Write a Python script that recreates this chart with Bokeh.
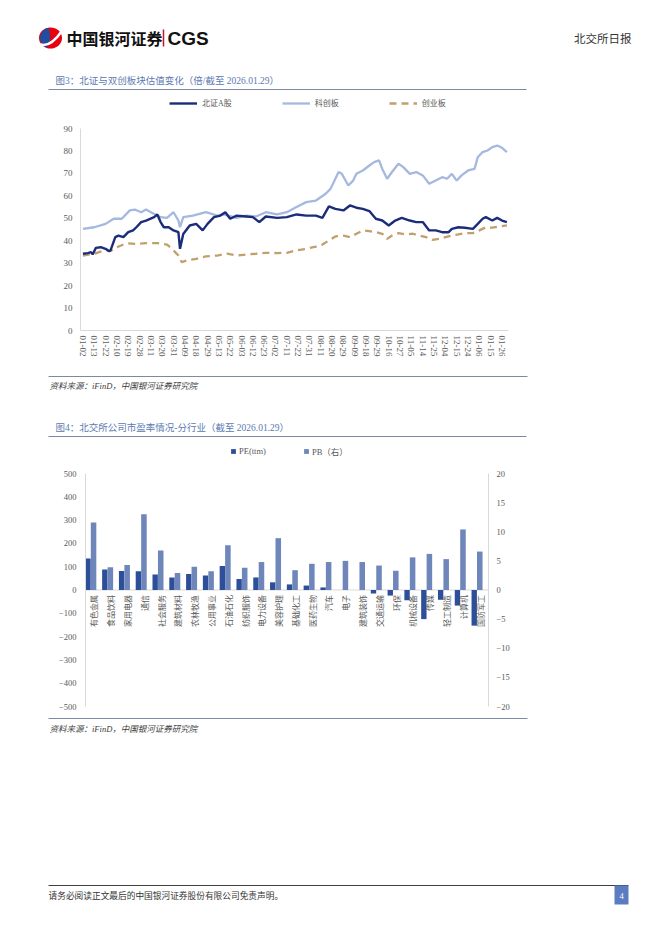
import math
from bokeh.plotting import figure
from bokeh.models import Range1d, FixedTicker, Legend, LegendItem, LinearAxis
from bokeh.core.properties import value
from bokeh.embed import file_html
from bokeh.resources import INLINE

CJK = "Noto Sans CJK SC"
MIX = "Liberation Serif, Noto Sans CJK SC"
SERIF = "Liberation Serif"

# ---------------- Chart 1 data (trading-day index, value) ----------------
date_labels = ["01-02", "01-13", "01-22", "02-10", "02-19", "02-28", "03-11", "03-20",
               "03-31", "04-09", "04-18", "04-29", "05-13", "05-22", "06-03", "06-12",
               "06-23", "07-02", "07-11", "07-22", "07-31", "08-11", "08-20", "08-29",
               "09-09", "09-18", "09-29", "10-16", "10-27", "11-05", "11-14", "11-25",
               "12-04", "12-15", "12-24", "01-06", "01-15", "01-26"]
date_ticks = [0, 7, 14, 21, 28, 35, 42, 49, 56, 63, 70, 77, 84, 91, 98, 105, 112, 119,
              126, 133, 140, 147, 154, 161, 168, 175, 182, 189, 196, 203, 210, 217, 224,
              231, 238, 245, 252, 259]

bz_idx = [0, 3, 5, 6, 8, 11, 14, 16, 17, 20, 22, 25, 28, 31, 33, 36, 39, 44, 46, 48, 50,
          53, 56, 59, 60, 62, 66, 70, 74, 77, 81, 85, 88, 91, 95, 101, 105, 109, 113, 120,
          126, 132, 138, 144, 148, 152, 156, 161, 165, 169, 173, 177, 181, 185, 189, 193,
          197, 202, 206, 210, 214, 218, 222, 226, 228, 232, 236, 241, 244, 247, 249, 253,
          256, 259, 262]
bz_val = [34.2, 34.5, 34.9, 33.9, 36.8, 37.1, 36.4, 35.4, 35.6, 41.6, 42.3, 41.6, 43.8,
          44.6, 46.0, 48.3, 49.0, 50.5, 51.7, 48.3, 46.0, 46.0, 44.6, 43.8, 36.4, 43.0,
          46.8, 47.5, 44.6, 47.5, 50.5, 51.2, 52.7, 49.8, 51.2, 50.8, 50.5, 48.3, 50.8,
          50.2, 50.5, 51.7, 51.2, 51.2, 50.2, 55.3, 54.2, 53.5, 55.7, 54.7, 54.2, 53.2,
          49.8, 49.0, 46.8, 49.0, 50.2, 49.0, 48.3, 48.3, 44.6, 44.6, 43.8, 43.8, 45.3,
          46.0, 45.8, 45.3, 47.5, 49.8, 50.5, 49.0, 50.2, 49.0, 48.3]

kc_idx = [0, 7, 14, 19, 24, 29, 32, 36, 39, 42, 48, 52, 56, 59, 60, 62, 68, 76, 83, 87,
          95, 101, 107, 113, 120, 126, 132, 138, 144, 150, 153, 156, 158, 160, 164, 167,
          169, 173, 177, 180, 183, 185, 188, 191, 195, 198, 202, 206, 210, 214, 218, 222,
          225, 228, 231, 234, 238, 242, 244, 247, 250, 253, 256, 259, 262]
kc_val = [45.3, 46.0, 47.5, 49.8, 49.8, 53.5, 53.9, 52.7, 53.9, 52.7, 50.5, 50.2, 52.7,
          49.0, 46.0, 50.5, 51.2, 52.7, 51.2, 51.7, 50.2, 51.2, 50.8, 52.7, 51.7, 52.7,
          55.0, 57.2, 57.9, 60.9, 63.1, 67.6, 70.6, 69.8, 64.6, 66.8, 69.8, 71.3, 73.5,
          75.0, 75.8, 72.0, 67.6, 70.6, 74.3, 72.8, 69.8, 70.6, 69.1, 65.4, 66.8, 68.3,
          67.6, 69.8, 66.8, 69.1, 71.3, 72.0, 77.2, 79.5, 80.2, 81.7, 82.4, 81.4, 79.5]

cy_idx = [0, 7, 14, 17, 21, 27, 33, 39, 46, 52, 55, 59, 61, 64, 70, 76, 83, 89, 95, 101,
          107, 113, 120, 126, 132, 138, 144, 148, 152, 156, 161, 165, 169, 173, 177, 181,
          185, 188, 191, 195, 199, 204, 208, 212, 216, 220, 224, 228, 232, 236, 241, 245,
          249, 253, 257, 262]
cy_val = [33.4, 34.2, 35.9, 35.4, 37.1, 38.9, 38.6, 38.9, 38.9, 38.3, 36.4, 33.4, 30.5,
          31.2, 31.9, 33.0, 33.4, 34.2, 33.4, 33.9, 34.2, 34.6, 34.5, 34.6, 35.7, 36.4,
          37.4, 38.3, 40.1, 41.9, 42.3, 41.6, 43.1, 44.6, 44.3, 43.8, 43.1, 40.8, 42.3,
          43.4, 42.8, 43.1, 42.3, 41.6, 40.4, 40.8, 41.6, 42.3, 42.8, 43.4, 43.4, 44.6,
          46.0, 45.8, 46.3, 46.8]

# ---------------- Chart 2 data ----------------
industries = ["有色金属", "食品饮料", "家用电器", "通信", "社会服务", "建筑材料", "农林牧渔",
              "公用事业", "石油石化", "纺织服饰", "电力设备", "美容护理", "基础化工", "医药生物",
              "汽车", "电子", "建筑装饰", "交通运输", "环保", "机械设备", "传媒", "轻工制造",
              "计算机", "国防军工"]
pe_ttm = [135, 88, 82, 80, 67, 54, 69, 62, 103, 47, 54, 33, 24, 19, 11, 0, 0, -15, -24,
          -44, -125, -42, -67, -153]
pb = [11.6, 3.9, 4.3, 13.0, 6.8, 2.9, 4.0, 3.2, 7.7, 3.8, 4.8, 8.9, 3.4, 4.5, 4.8, 5.0,
      4.8, 4.2, 3.3, 5.6, 6.2, 5.3, 10.4, 6.6]

TITLE_C = "#5b79b0"
RULE_C = "#7c88a4"
AXIS_C = "#d9d9d9"
LAB_C = "#595959"

# the canvas covers the page from its top-left corner, in page pixels
W, H = 660, 934
PX0, PX1 = 0, W        # left / right page x of the canvas
PY0, PY1 = H, 0        # bottom / top page y of the canvas


def mapped_range(v_a, p_a, v_b, p_b, start_px, end_px):
    k = (v_b - v_a) / (p_b - p_a)
    return Range1d(v_a + (start_px - p_a) * k, v_a + (end_px - p_a) * k)


p = figure(width=W, height=H, x_range=Range1d(PX0, PX1), y_range=Range1d(PY0, PY1),
           output_backend="svg", toolbar_location=None, min_border=0,
           x_axis_location=None, y_axis_location=None, outline_line_color=None)
p.grid.visible = False
p.background_fill_color = "white"
p.border_fill_color = "white"

# chart areas (page pixels) -> data ranges
p.extra_x_ranges = {
    "c1x": mapped_range(-1.5, 80, 263, 508, PX0, PX1),
    "c2x": mapped_range(0, 85, len(industries), 488, PX0, PX1),
}
p.extra_y_ranges = {
    "c1y": mapped_range(0, 330, 90, 128, PY0, PY1),
    "c2y": mapped_range(-500, 706, 500, 473, PY0, PY1),
    "c2r": mapped_range(-20, 706, 20, 473, PY0, PY1),
}


def txt(x, y, s, size, color, font=CJK, style="normal", align="left"):
    p.text(x=[x], y=[y], text=[s], text_font=value(font), text_font_size=size,
           text_color=color, text_baseline="middle", text_align=align,
           text_font_style=style)


def rule(x0, x1, y, color=RULE_C, w=1):
    p.segment(x0=[x0], y0=[y], x1=[x1], y1=[y], line_color=color, line_width=w)


def style_axis(ax, size, standoff):
    ax.axis_line_color = AXIS_C
    ax.major_tick_line_color = None
    ax.minor_tick_line_color = None
    ax.major_tick_out = 0
    ax.major_tick_in = 0
    ax.major_label_text_font = SERIF
    ax.major_label_text_font_size = size
    ax.major_label_text_color = LAB_C
    ax.major_label_standoff = standoff


# ---------------- page header ----------------
p.ellipse(x=[50], y=[37.5], width=23, height=21, fill_color="#e60012", line_color=None)
p.wedge(x=[50], y=[37.5], radius=10.5, start_angle=math.radians(100),
        end_angle=math.radians(250), fill_color="#1f4e9e", line_color=None)
p.quadratic(x0=[40], y0=[44], x1=[61], y1=[31], cx=[50], cy=[47], line_color="white",
            line_width=2.5)
txt(66, 37.5, "中国银河证券", "16px", "#111111", style="bold")
p.segment(x0=[163], y0=[29], x1=[163], y1=[46], line_color="#c8102e", line_width=1.5)
txt(167, 38, "CGS", "19px", "#111111", font="Liberation Sans", style="bold")
txt(631, 37.5, "北交所日报", "11.5px", "#333333", align="right")

# ---------------- chart 1 ----------------
txt(55, 80, "图3：北证与双创板块估值变化（倍/截至 2026.01.29）", "9.5px", TITLE_C, font=MIX)
rule(48, 526, 89)

ax1y = LinearAxis(x_range_name="c1x", y_range_name="c1y", fixed_location=-1.5,
                  bounds=(0, 90), ticker=FixedTicker(ticks=list(range(0, 91, 10))))
style_axis(ax1y, "9px", 8)
p.add_layout(ax1y, "left")
ax1x = LinearAxis(x_range_name="c1x", y_range_name="c1y", fixed_location=0,
                  bounds=(-1.5, 263), ticker=FixedTicker(ticks=date_ticks))
ax1x.major_label_overrides = {t: l for t, l in zip(date_ticks, date_labels)}
ax1x.major_label_orientation = "vertical"
style_axis(ax1x, "9px", 5)
p.add_layout(ax1x, "below")

r_kc = p.line(kc_idx, kc_val, line_color="#a5b8df", line_width=2.3,
              x_range_name="c1x", y_range_name="c1y")
r_cy = p.line(cy_idx, cy_val, line_color="#c0a06d", line_width=2.3, line_dash="7 5",
              x_range_name="c1x", y_range_name="c1y")
r_bz = p.line(bz_idx, bz_val, line_color="#1b2d7a", line_width=2.4,
              x_range_name="c1x", y_range_name="c1y")

# legend positions are measured from the canvas bottom-left
leg1 = Legend(items=[LegendItem(label="北证A股", renderers=[r_bz]),
                     LegendItem(label="科创板", renderers=[r_kc]),
                     LegendItem(label="创业板", renderers=[r_cy])],
              orientation="horizontal", location=(169, H - 108), glyph_width=28,
              glyph_height=10, label_height=10, label_width=10, label_standoff=5,
              spacing=50, padding=0, margin=0, border_line_color=None,
              background_fill_alpha=0, label_text_font=MIX,
              label_text_font_size="8px", label_text_color=LAB_C)
p.add_layout(leg1)

rule(48, 527, 376)
txt(49, 385, "资料来源：iFinD，中国银河证券研究院", "8.5px", "#404040", font=MIX,
    style="italic")

# ---------------- chart 2 ----------------
txt(55, 427, "图4：北交所公司市盈率情况-分行业（截至 2026.01.29）", "9.5px", TITLE_C, font=MIX)
rule(48, 526, 436)

n = len(industries)
centers = [i + 0.5 for i in range(n)]
ax2l = LinearAxis(x_range_name="c2x", y_range_name="c2y", fixed_location=0,
                  bounds=(-500, 500), ticker=FixedTicker(ticks=list(range(-500, 501, 100))))
style_axis(ax2l, "8.5px", 9)
p.add_layout(ax2l, "left")
ax2r = LinearAxis(x_range_name="c2x", y_range_name="c2r", fixed_location=n,
                  bounds=(-20, 20), ticker=FixedTicker(ticks=list(range(-20, 21, 5))))
style_axis(ax2r, "8.5px", 8)
p.add_layout(ax2r, "right")

p.segment(x0=[0], y0=[0], x1=[n], y1=[0], line_color=AXIS_C, line_width=1,
          x_range_name="c2x", y_range_name="c2y")
r_pe = p.vbar(x=[c - 0.35 for c in centers], top=pe_ttm, width=0.32,
              fill_color="#2d4f9a", line_color=None, x_range_name="c2x", y_range_name="c2y")
r_pb = p.vbar(x=[c - 0.02 for c in centers], top=pb, width=0.33,
              fill_color="#6f86ba", line_color=None, x_range_name="c2x", y_range_name="c2r")
p.text(x=centers, y=[0] * n, text=industries, angle=math.pi / 2, y_offset=5,
       text_align="right", text_baseline="middle", text_font=value(CJK),
       text_font_size="8px", text_color=LAB_C, x_range_name="c2x", y_range_name="c2y")

leg2 = Legend(items=[LegendItem(label="PE(ttm)", renderers=[r_pe]),
                     LegendItem(label="PB（右）", renderers=[r_pb])],
              orientation="horizontal", location=(230, H - 457), glyph_width=6,
              glyph_height=6, label_height=10, label_width=10, label_standoff=3,
              spacing=37, padding=0, margin=0, border_line_color=None,
              background_fill_alpha=0, label_text_font=MIX,
              label_text_font_size="8.5px", label_text_color=LAB_C)
p.add_layout(leg2)

rule(48, 527, 718)
txt(49, 728, "资料来源：iFinD，中国银河证券研究院", "8.5px", "#404040", font=MIX,
    style="italic")

# ---------------- footer ----------------
rule(48, 628, 885, color="#404040", w=1)
txt(48, 895, "请务必阅读正文最后的中国银河证券股份有限公司免责声明。", "8.7px", "#333333")
p.quad(left=[614], right=[628], top=[885], bottom=[904], fill_color="#5c7cc0",
       line_color=None)
txt(621, 895, "4", "8.5px", "white", font=SERIF, align="center")

open("out.html", "w").write(file_html(p, INLINE))
